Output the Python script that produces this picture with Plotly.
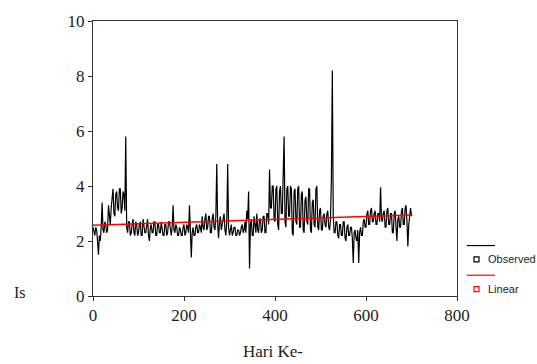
import plotly.graph_objects as go

# ---- data ----
obs_days = list(range(0, 701, 2))
observed = [
    # days 0-38
    2.5, 2.3, 2.2, 2.5, 2.4, 2.0, 1.5, 2.2, 2.0, 2.5, 3.4, 2.4, 2.3, 2.7, 2.6, 2.3, 2.4, 3.3, 2.9, 2.6,
    # days 40-78
    3.2, 3.6, 3.9, 3.0, 2.9, 3.7, 3.8, 3.2, 3.1, 3.9, 3.9, 3.0, 3.2, 3.8, 3.7, 3.1, 5.8, 2.5, 2.3, 2.7,
    # days 80-118
    2.7, 2.2, 2.3, 2.6, 2.8, 2.3, 2.2, 2.7, 2.6, 2.2, 2.3, 2.6, 2.7, 2.2, 2.2, 2.8, 2.6, 2.3, 2.3, 2.6,
    # days 120-158
    2.8, 2.2, 2.0, 2.5, 2.6, 2.3, 2.3, 2.7, 2.7, 2.2, 2.2, 2.6, 2.6, 2.3, 2.3, 2.7, 2.5, 2.2, 2.2, 2.6,
    # days 160-198
    2.6, 2.2, 2.3, 2.7, 2.7, 2.3, 2.2, 2.5, 3.3, 2.4, 2.3, 2.6, 2.5, 2.2, 2.2, 2.5, 2.4, 2.2, 2.2, 2.5,
    # days 200-238
    2.6, 2.2, 2.3, 2.6, 2.5, 2.3, 3.3, 2.4, 1.4, 2.3, 2.5, 2.2, 2.2, 2.5, 2.6, 2.3, 2.3, 2.6, 2.5, 2.3,
    # days 240-278
    2.9, 2.5, 2.4, 2.8, 3.0, 2.4, 2.5, 2.9, 2.9, 2.3, 2.3, 2.8, 3.0, 2.5, 2.4, 2.9, 4.8, 2.6, 2.1, 2.7,
    # days 280-318
    2.9, 2.4, 2.6, 2.9, 3.0, 2.4, 2.2, 2.7, 4.8, 2.5, 2.2, 2.4, 2.6, 2.2, 2.3, 2.5, 2.5, 2.2, 2.2, 2.4,
    # days 320-358
    2.4, 2.2, 2.3, 2.5, 2.6, 2.3, 2.4, 2.7, 2.3, 3.1, 2.8, 3.8, 1.0, 2.6, 2.8, 2.2, 2.2, 2.9, 2.6, 2.3,
    # days 360-398
    3.0, 2.4, 2.3, 2.8, 2.8, 2.3, 2.4, 2.9, 2.9, 2.3, 2.3, 3.0, 3.0, 2.6, 4.6, 3.2, 3.2, 4.0, 4.0, 2.8,
    # days 400-438
    2.7, 3.9, 4.0, 2.6, 2.4, 3.8, 4.0, 3.0, 3.0, 4.0, 5.8, 2.7, 2.5, 3.9, 4.0, 2.9, 2.9, 4.0, 3.9, 2.3,
    # days 440-478
    2.2, 3.8, 3.9, 2.7, 2.6, 3.9, 4.0, 2.5, 2.5, 3.7, 3.8, 2.4, 2.3, 3.5, 3.6, 2.7, 2.6, 3.9, 3.9, 2.4,
    # days 480-518
    2.3, 3.4, 3.5, 2.6, 2.5, 3.9, 4.0, 2.5, 2.4, 3.1, 3.2, 2.4, 2.4, 2.9, 3.0, 2.6, 2.5, 3.0, 3.1, 2.5,
    # days 520-558
    2.4, 2.8, 4.3, 8.2, 2.9, 2.3, 2.3, 2.7, 2.7, 2.2, 2.1, 2.6, 2.6, 2.2, 2.2, 2.7, 2.7, 2.1, 2.0, 2.5,
    # days 560-598
    2.6, 2.2, 2.2, 2.5, 2.5, 2.1, 1.2, 2.3, 2.4, 2.1, 2.0, 2.4, 1.2, 2.3, 2.5, 2.2, 2.2, 2.7, 2.8, 2.5,
    # days 600-638
    2.5, 3.0, 3.1, 2.6, 2.6, 3.1, 3.2, 2.7, 2.7, 3.0, 3.1, 2.6, 2.6, 3.0, 3.0, 2.7, 3.95, 2.8, 2.7, 3.0,
    # days 640-678
    3.1, 2.5, 2.5, 3.1, 3.2, 2.6, 2.6, 3.0, 3.0, 2.3, 2.3, 3.0, 3.1, 2.5, 2.0, 2.8, 2.9, 2.5, 2.5, 3.1,
    # days 680-700
    3.2, 2.6, 2.6, 3.2, 3.3, 2.7, 1.8, 2.6, 3.0, 3.2, 2.9,
]
assert len(observed) == len(obs_days)

linear_days = [0, 702]
linear_vals = [2.57, 2.95]

x_ticks = [0, 200, 400, 600, 800]
y_ticks = [0, 2, 4, 6, 8, 10]

legend_labels = ["Observed", "Linear"]
series_colors = ["#000000", "#ff0000"]

# ---- layout geometry ----
W, H = 537, 364
ML, MR, MT, MB = 93, 80, 18, 68
PW, PH = W - ML - MR, H - MT - MB


def px(x):
    return (x - ML) / PW


def py(y):
    return (H - MB - y) / PH


fig = go.Figure()
fig.add_trace(go.Scatter(x=obs_days, y=observed, mode="lines",
                         line=dict(color=series_colors[0], width=1.2),
                         showlegend=False, hoverinfo="skip"))
fig.add_trace(go.Scatter(x=linear_days, y=linear_vals, mode="lines",
                         line=dict(color=series_colors[1], width=1.5),
                         showlegend=False, hoverinfo="skip"))

serif = "Liberation Serif, Times New Roman, serif"
axis_common = dict(showline=True, linecolor="#333", linewidth=1, mirror=True,
                   showgrid=False, zeroline=False, ticks="outside", ticklen=4,
                   tickcolor="#333",
                   tickfont=dict(family=serif, size=17, color="#222"))

fig.update_xaxes(range=[0, 800], tickvals=x_ticks, **axis_common)
fig.update_yaxes(range=[0, 10], tickvals=y_ticks, **axis_common)

shapes = []
annotations = []
# custom legend
leg_rows = [(245, 259), (275, 289)]
for (ly, my), lab, col in zip(leg_rows, legend_labels, series_colors):
    shapes.append(dict(type="line", xref="paper", yref="paper",
                       x0=px(467), x1=px(495), y0=py(ly), y1=py(ly),
                       line=dict(color=col, width=1.2)))
    shapes.append(dict(type="rect", xref="paper", yref="paper",
                       x0=px(474), x1=px(479), y0=py(my + 2.5), y1=py(my - 2.5),
                       line=dict(color=col, width=1.2), fillcolor="white"))
    annotations.append(dict(text=lab, xref="paper", yref="paper",
                            x=px(486), y=py(my), xanchor="left", yanchor="middle",
                            showarrow=False,
                            font=dict(family="Liberation Sans, Arial, sans-serif",
                                      size=11, color="#222")))

annotations.append(dict(text="Hari Ke-", xref="paper", yref="paper",
                        x=px(273), y=py(352), xanchor="center", yanchor="middle",
                        showarrow=False, font=dict(family=serif, size=17, color="#222")))
annotations.append(dict(text="Is", xref="paper", yref="paper",
                        x=px(12), y=py(292), xanchor="left", yanchor="middle",
                        showarrow=False, font=dict(family=serif, size=16, color="#222")))

fig.update_layout(width=W, height=H,
                  margin=dict(l=ML, r=MR, t=MT, b=MB, pad=0),
                  paper_bgcolor="white", plot_bgcolor="white",
                  shapes=shapes, annotations=annotations, showlegend=False)

fig.write_html("out.html")
